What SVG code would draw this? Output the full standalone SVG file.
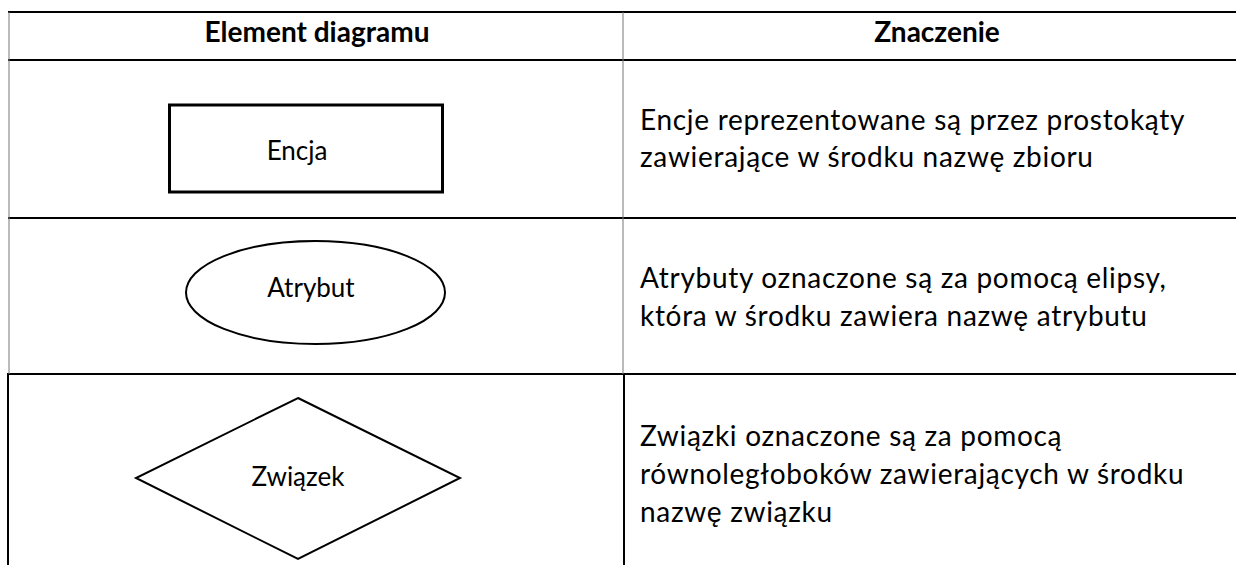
<svg xmlns="http://www.w3.org/2000/svg" width="1236" height="565" viewBox="0 0 1236 565">
<style>
.t{font-family:Lato,"Noto Sans","Liberation Sans",sans-serif;font-size:28px;fill:#000}
.b{letter-spacing:0.7px}
.h{font-weight:bold;text-anchor:middle}
.c{text-anchor:middle;font-size:26px}
.rule{stroke:#000;stroke-width:2;fill:none}
.thin{stroke:#777;stroke-width:1;fill:none}
.shape{stroke:#000;fill:#fff}
</style>
<rect width="1236" height="565" fill="#fff"/>
<g id="table">
<line class="rule" x1="8" y1="12" x2="1236" y2="12"/>
<line class="rule" x1="8" y1="60" x2="1236" y2="60"/>
<line class="rule" x1="8" y1="218" x2="1236" y2="218"/>
<line class="rule" x1="7" y1="374" x2="1236" y2="374"/>
<line class="thin" x1="9" y1="12" x2="9" y2="374"/>
<line class="thin" x1="623" y1="12" x2="623" y2="374"/>
<line class="rule" x1="8" y1="374" x2="8" y2="565"/>
<line class="rule" x1="624" y1="374" x2="624" y2="565"/>
<text class="t h" x="317" y="42">Element diagramu</text>
<text class="t h" x="937" y="42">Znaczenie</text>
</g>
<g id="encja">
<rect class="shape" x="169.5" y="105" width="273" height="87" stroke-width="3"/>
<text class="t c" x="297" y="160">Encja</text>
</g>
<g id="encja-opis">
<text class="t b" x="640" y="130">Encje reprezentowane są przez prostokąty</text>
<text class="t b" x="640" y="167">zawierające w środku nazwę zbioru</text>
</g>
<g id="atrybut">
<ellipse class="shape" cx="315.5" cy="292.5" rx="129.5" ry="51.5" stroke-width="2"/>
<text class="t c" x="311" y="297">Atrybut</text>
</g>
<g id="atrybut-opis">
<text class="t b" x="640" y="288">Atrybuty oznaczone są za pomocą elipsy,</text>
<text class="t b" x="640" y="326">która w środku zawiera nazwę atrybutu</text>
</g>
<g id="zwiazek">
<polygon class="shape" points="298,398 460,478 298,559 136,478" stroke-width="2"/>
<text class="t c" x="298" y="486">Związek</text>
</g>
<g id="zwiazek-opis">
<text class="t b" x="640" y="446">Związki oznaczone są za pomocą</text>
<text class="t b" x="640" y="484">równoległoboków zawierających w środku</text>
<text class="t b" x="640" y="522">nazwę związku</text>
</g>
</svg>
